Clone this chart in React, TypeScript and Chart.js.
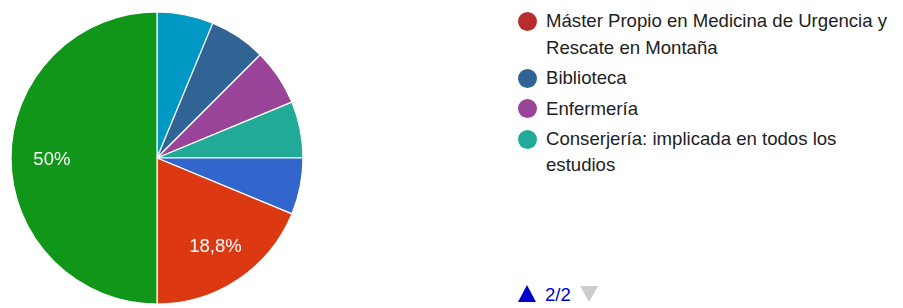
import React, { useEffect, useRef } from "react";
import { Chart, registerables } from "chart.js";

Chart.register(...registerables);

// Pie slices, in drawing order (clockwise from 12 o'clock)
const sliceLabels = [
  "Opción 1",
  "Biblioteca",
  "Enfermería",
  "Conserjería: implicada en todos los estudios",
  "Opción 2",
  "Opción 3",
  "Opción 4",
];
const sliceValues = [1, 1, 1, 1, 1, 3, 8];
const sliceColors = ["#0099c6", "#316395", "#994499", "#22aa99", "#3366cc", "#dc3912", "#109618"];

// Legend page 2/2
const legendLines = [
  ["Máster Propio en Medicina de Urgencia y", "Rescate en Montaña"],
  ["Biblioteca"],
  ["Enfermería"],
  ["Conserjería: implicada en todos los", "estudios"],
];
const legendColors = ["#b82e2e", "#316395", "#994499", "#22aa99"];
const pageLabel = "2/2";

const FONT = '"Liberation Sans", Arial, sans-serif';

function formatPct(frac: number): string {
  const v = Math.round(frac * 1000) / 10;
  const s = Number.isInteger(v) ? String(v) : v.toFixed(1).replace(".", ",");
  return s + "%";
}

const sliceLabelPlugin = {
  id: "sliceLabels",
  afterDatasetsDraw(chart: any) {
    const meta = chart.getDatasetMeta(0);
    const data = chart.data.datasets[0].data as number[];
    const total = data.reduce((a, b) => a + b, 0);
    const ctx = chart.ctx;
    ctx.save();
    ctx.fillStyle = "#ffffff";
    ctx.font = "18.5px " + FONT;
    ctx.textAlign = "center";
    ctx.textBaseline = "alphabetic";
    meta.data.forEach((arc: any, i: number) => {
      const frac = data[i] / total;
      if (frac < 0.1) return;
      const p = arc.getProps(["x", "y", "startAngle", "endAngle", "outerRadius"], true);
      const mid = (p.startAngle + p.endAngle) / 2;
      const r = p.outerRadius * 0.72;
      const cx = p.x + Math.cos(mid) * r;
      const cy = p.y + Math.sin(mid) * r;
      ctx.fillText(formatPct(frac), cx, cy + 6.5);
    });
    ctx.restore();
  },
};

function PieChart() {
  const ref = useRef<HTMLCanvasElement | null>(null);
  useEffect(() => {
    if (!ref.current) return;
    const chart = new Chart(ref.current, {
      type: "pie",
      data: {
        labels: sliceLabels,
        datasets: [
          {
            data: sliceValues,
            backgroundColor: sliceColors,
            borderColor: "#ffffff",
            borderWidth: 1.2,
            radius: 146,
          } as any,
        ],
      },
      options: {
        responsive: false,
        maintainAspectRatio: false,
        animation: false,
        layout: { padding: { left: 0, right: 6, top: 8, bottom: 0 } },
        plugins: {
          legend: { display: false },
          tooltip: { enabled: false },
        },
      },
      plugins: [sliceLabelPlugin],
    });
    return () => chart.destroy();
  }, []);
  return (
    <canvas
      ref={ref}
      width={320}
      height={308}
      style={{ position: "absolute", left: 0, top: 0, width: 320, height: 308, display: "block" }}
    />
  );
}

export default function App() {
  return (
    <div
      style={{
        position: "absolute",
        left: 0,
        top: 0,
        width: 903,
        height: 308,
        background: "#ffffff",
        overflow: "hidden",
        fontFamily: FONT,
      }}
    >
      <PieChart />
      <div style={{ position: "absolute", left: 517, top: 8.4, width: 386 }}>
        {legendLines.map((lines, i) => (
          <div
            key={i}
            style={{
              position: "relative",
              paddingLeft: 29,
              marginBottom: 4,
              fontSize: 18.6,
              lineHeight: "26.4px",
              color: "#222222",
              whiteSpace: "nowrap",
            }}
          >
            <span
              style={{
                position: "absolute",
                left: 0.5,
                top: 3.8,
                width: 19,
                height: 19,
                borderRadius: "50%",
                background: legendColors[i],
              }}
            />
            {lines.map((l, j) => (
              <div key={j}>{l}</div>
            ))}
          </div>
        ))}
      </div>
      <svg
        width={100}
        height={32}
        style={{ position: "absolute", left: 510, top: 276 }}
      >
        <polygon points="8,26 26,26 17,9" fill="#0000cc" />
        <text x={35} y={25} fontSize={18.6} fill="#0000cc" fontFamily={FONT}>
          {pageLabel}
        </text>
        <polygon points="70,10 88,10 79,26" fill="#cccccc" />
      </svg>
    </div>
  );
}
